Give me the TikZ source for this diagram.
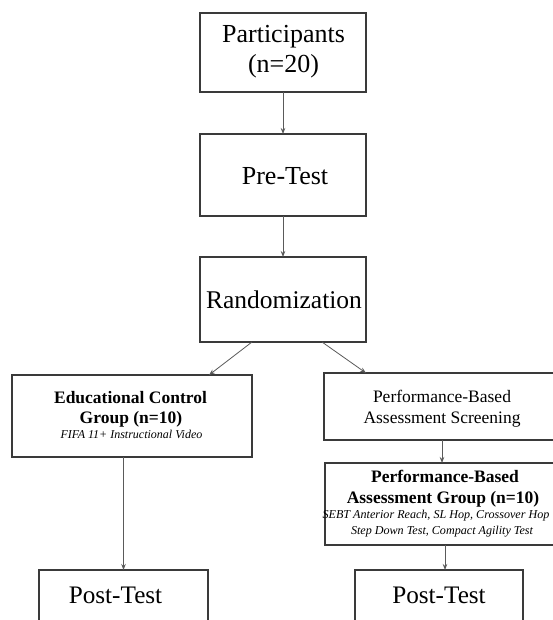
\documentclass[tikz,border=0pt]{standalone}
\usepackage{fontspec}
\setmainfont{Liberation Serif}
\usetikzlibrary{arrows.meta}
\definecolor{boxc}{HTML}{3A3A3A}
\definecolor{arrc}{HTML}{5A5A5A}
\begin{document}
\begin{tikzpicture}[x=1pt,y=-1pt,
  box/.style={draw=boxc, line width=1.5pt, inner sep=0pt, outer sep=0pt, fill=white},
  conn/.style={draw=arrc, line width=0.8pt, -{Stealth[length=6pt,width=4.5pt]}},
  big/.style={anchor=base, inner sep=0pt, font=\fontsize{26}{30}\selectfont},
  mid/.style={anchor=base, inner sep=0pt, font=\fontsize{17.5}{21}\selectfont},
  bld/.style={anchor=base, inner sep=0pt, font=\fontsize{17.5}{20}\selectfont\bfseries},
  bldb/.style={anchor=base, inner sep=0pt, font=\fontsize{17.5}{21}\selectfont\bfseries},
  ital/.style={anchor=base, inner sep=0pt, font=\fontsize{12}{14}\selectfont\itshape},
  itab/.style={anchor=base, inner sep=0pt, font=\fontsize{12.1}{15}\selectfont\itshape}]
\useasboundingbox (0,0) rectangle (553,620);
\clip (0,0) rectangle (553,620);
\fill[white] (0,0) rectangle (553,620);

\node[box, minimum width=166pt, minimum height=79pt] (part) at (283,52.5) {};
\node[box, minimum width=166pt, minimum height=82pt] (pre) at (283,175) {};
\node[box, minimum width=166pt, minimum height=85pt] (rand) at (283,299.5) {};
\node[box, minimum width=240pt, minimum height=82pt] (edu) at (132,416) {};
\node[box, minimum width=236pt, minimum height=67pt] (pbas) at (442,406.5) {};
\node[box, minimum width=240pt, minimum height=82pt] (pbag) at (445,504) {};
\node[box, minimum width=169pt, minimum height=70pt] (postL) at (123.5,605) {};
\node[box, minimum width=168pt, minimum height=70pt] (postR) at (439,605) {};

\node[big] (t1) at (283.5,43) {Participants};
\node[big] (t2) at (283.5,73) {(n=20)};
\node[big] (t3) at (285,185) {Pre-Test};
\node[big, font=\fontsize{25.5}{28}\selectfont] (t4) at (284,308) {Randomization};
\node[bld] (t5) at (130.5,403) {Educational Control};
\node[bld] (t6) at (131,423) {Group (n=10)};
\node[ital] (t7) at (131.5,438) {FIFA 11+ Instructional Video};
\node[mid] (t8) at (442,402) {Performance-Based};
\node[mid] (t9) at (442,423) {Assessment Screening};
\node[bldb] (t10) at (445,482) {Performance-Based};
\node[bldb] (t11) at (443,503) {Assessment Group (n=10)};
\node[itab] (t12) at (436,518) {SEBT Anterior Reach, SL Hop, Crossover Hop};
\node[itab] (t13) at (442,534) {Step Down Test, Compact Agility Test};
\node[big, font=\fontsize{25.2}{28}\selectfont] (t14) at (115.5,603) {Post-Test};
\node[big, font=\fontsize{25.2}{28}\selectfont] (t15) at (439,603) {Post-Test};

\draw[conn] (part.south) -- (pre.north);
\draw[conn] (pre.south) -- (rand.north);
\draw[conn] ([xshift=52pt]rand.south west) -- ([xshift=-43pt]edu.north east);
\draw[conn] ([xshift=-44pt]rand.south east) -- ([xshift=42pt]pbas.north west);
\draw[conn] (pbas.south) -- (pbas.south |- pbag.north);
\draw[conn] (pbag.south) -- (pbag.south |- postR.north);
\draw[conn] (postL.north |- edu.south) -- (postL.north);
\end{tikzpicture}
\end{document}
